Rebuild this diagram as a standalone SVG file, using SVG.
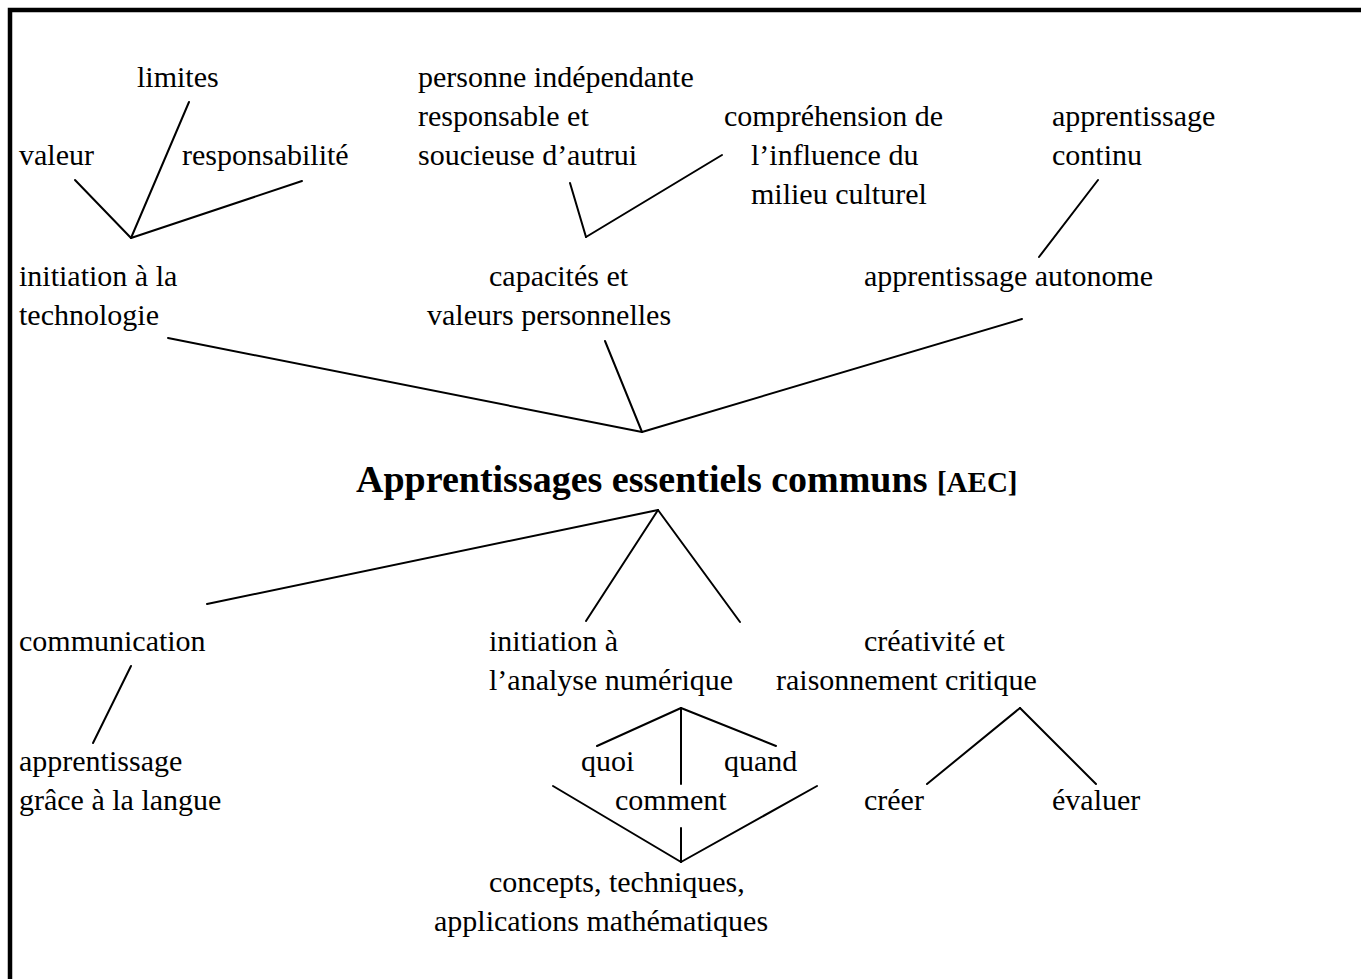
<svg xmlns="http://www.w3.org/2000/svg" width="1361" height="979" viewBox="0 0 1361 979">
<style>
text{font-family:"Liberation Serif","Times New Roman",serif;font-size:30px;fill:#000}
.title{font-weight:bold;font-size:38px}
.abbr{font-weight:bold;font-size:29px}
.c line{stroke:#000;stroke-width:2;stroke-linecap:round}
</style>
<rect width="1361" height="979" fill="#fff"/>
<path d="M10,979 V10 H1361" fill="none" stroke="#000" stroke-width="4.5"/>
<g id="n-limites"><text x="137" y="87">limites</text></g>
<g id="n-valeur"><text x="19" y="165">valeur</text></g>
<g id="n-responsabilite"><text x="182" y="165">responsabilité</text></g>
<g id="n-personne"><text x="418" y="87">personne indépendante</text><text x="418" y="126">responsable et</text><text x="418" y="165">soucieuse d’autrui</text></g>
<g id="n-comprehension"><text x="724" y="126">compréhension de</text><text x="751" y="165">l’influence du</text><text x="751" y="204">milieu culturel</text></g>
<g id="n-continu"><text x="1052" y="126">apprentissage</text><text x="1052" y="165">continu</text></g>
<g id="n-technologie"><text x="19" y="286">initiation à la</text><text x="19" y="325">technologie</text></g>
<g id="n-capacites"><text x="489" y="286">capacités et</text><text x="427" y="325">valeurs personnelles</text></g>
<g id="n-autonome"><text x="864" y="286">apprentissage autonome</text></g>
<g id="n-aec"><text x="356" y="492"><tspan class="title">Apprentissages essentiels communs </tspan><tspan class="abbr">[AEC]</tspan></text></g>
<g id="n-communication"><text x="19" y="651">communication</text></g>
<g id="n-analyse"><text x="489" y="651">initiation à</text><text x="489" y="690">l’analyse numérique</text></g>
<g id="n-creativite"><text x="864" y="651">créativité et</text><text x="776" y="690">raisonnement critique</text></g>
<g id="n-langue"><text x="19" y="771">apprentissage</text><text x="19" y="810">grâce à la langue</text></g>
<g id="n-quoi"><text x="581" y="771">quoi</text></g>
<g id="n-quand"><text x="724" y="771">quand</text></g>
<g id="n-comment"><text x="615" y="810">comment</text></g>
<g id="n-creer"><text x="864" y="810">créer</text></g>
<g id="n-evaluer"><text x="1052" y="810">évaluer</text></g>
<g id="n-concepts"><text x="489" y="892">concepts, techniques,</text><text x="434" y="931">applications mathématiques</text></g>
<g id="connectors" class="c">
<line x1="75" y1="180" x2="131" y2="238"/>
<line x1="189" y1="102" x2="131" y2="238"/>
<line x1="302" y1="181" x2="131" y2="238"/>
<line x1="570" y1="183" x2="586" y2="237"/>
<line x1="722" y1="155" x2="586" y2="237"/>
<line x1="1098" y1="180" x2="1039" y2="257"/>
<line x1="168" y1="338" x2="642" y2="432"/>
<line x1="605" y1="341" x2="642" y2="432"/>
<line x1="1022" y1="319" x2="642" y2="432"/>
<line x1="658" y1="510" x2="207" y2="604"/>
<line x1="658" y1="510" x2="586" y2="621"/>
<line x1="658" y1="510" x2="740" y2="622"/>
<line x1="131" y1="666" x2="93" y2="743"/>
<line x1="681" y1="708" x2="597" y2="746"/>
<line x1="681" y1="708" x2="681" y2="784"/>
<line x1="681" y1="708" x2="776" y2="746"/>
<line x1="553" y1="786" x2="681" y2="862"/>
<line x1="817" y1="786" x2="681" y2="862"/>
<line x1="681" y1="828" x2="681" y2="862"/>
<line x1="1020" y1="708" x2="927" y2="784"/>
<line x1="1020" y1="708" x2="1096" y2="784"/>
</g>
</svg>
